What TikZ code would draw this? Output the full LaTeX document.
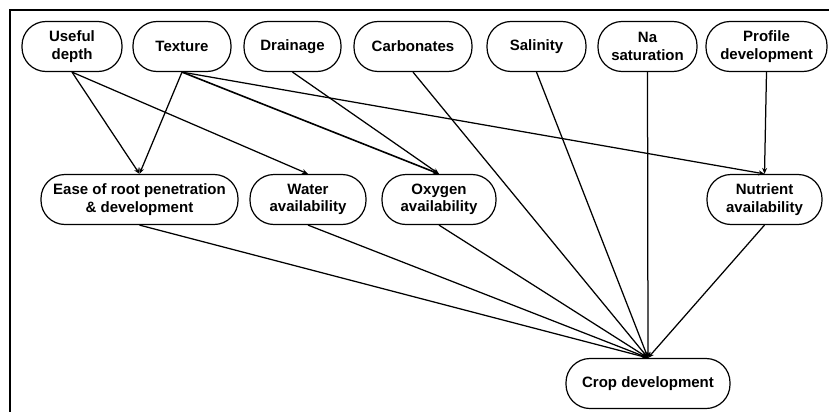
\documentclass[tikz,border=0pt]{standalone}
\usepackage{fontspec}
\setmainfont{Liberation Sans}
\usetikzlibrary{arrows.meta}
\begin{document}
\begin{tikzpicture}[x=1pt,y=-1pt,
  box/.style={draw,line width=1.2pt,rounded corners=24pt,minimum height=50pt,inner sep=0pt,align=center,font=\fontsize{15}{17.5}\selectfont\bfseries},
  arr/.style={line width=1.25pt,-{Stealth[length=6pt,width=5pt]}}]
\useasboundingbox (0,0) rectangle (829,412);
\draw[line width=2pt] (829,10.5) -- (10,10.5) -- (10,412);
% top row
\node[box,minimum width=100pt] (useful) at (72,46.5) {Useful\\depth};
\node[box,minimum width=98pt] (texture) at (182,46.5) {Texture};
\node[box,minimum width=97pt] (drainage) at (292.5,46.5) {Drainage};
\node[box,minimum width=118pt] (carbon) at (413,46.5) {Carbonates};
\node[box,minimum width=99pt] (salinity) at (536.5,46.5) {Salinity};
\node[box,minimum width=99pt] (na) at (647.5,46.5) {Na\\saturation};
\node[box,minimum width=121pt] (profile) at (766.5,46.5) {Profile\\development};
% middle row
\node[box,minimum width=197pt] (ease) at (139.5,199.5) {Ease of root penetration\\\& development};
\node[box,minimum width=116pt] (water) at (308,199.5) {Water\\availability};
\node[box,minimum width=114pt] (oxygen) at (439,199.5) {Oxygen\\availability};
\node[box,minimum width=115pt] (nutrient) at (764.5,199.5) {Nutrient\\availability};
% bottom
\node[box,minimum width=164pt] (crop) at (648,383.5) {Crop development};
% connectors
\draw[arr] (useful.south) -- (ease.north);
\draw[arr] (useful.south) -- (water.north);
\draw[arr] (texture.south) -- (ease.north);
\draw[arr,line width=1.6pt] (texture.south) -- (oxygen.north);
\draw[arr] (texture.south) -- (nutrient.north);
\draw[arr] (drainage.south) -- (oxygen.north);
\draw[arr] (profile.south) -- (nutrient.north);
\draw[arr] (carbon.south) -- (crop.north);
\draw[arr] (salinity.south) -- (crop.north);
\draw[arr] (na.south) -- (crop.north);
\draw[arr] (ease.south) -- (crop.north);
\draw[arr] (water.south) -- (crop.north);
\draw[arr] (oxygen.south) -- (crop.north);
\draw[arr] (nutrient.south) -- (crop.north);
\end{tikzpicture}
\end{document}
